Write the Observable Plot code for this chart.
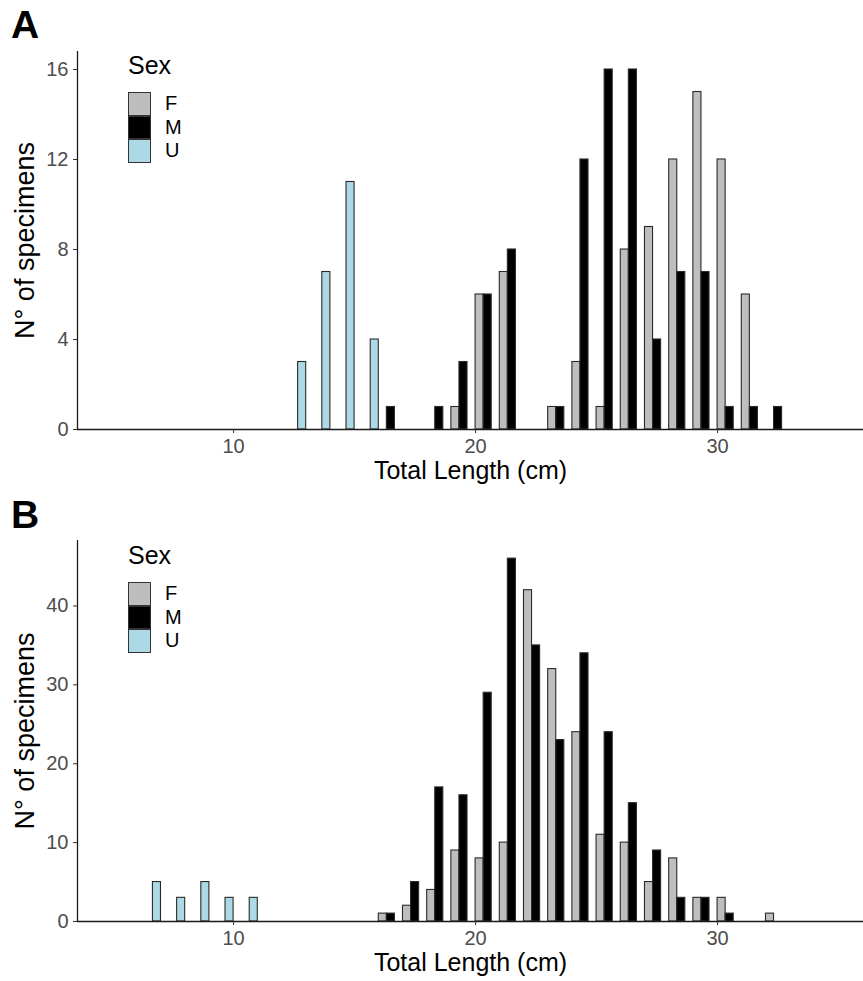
<!DOCTYPE html>
<html>
<head>
<meta charset="utf-8">
<script src="https://cdn.jsdelivr.net/npm/d3@7"></script>
<script src="https://cdn.jsdelivr.net/npm/@observablehq/plot@0.6"></script>
<style>
  body { margin: 0; background: #fff; font-family: "Liberation Sans", Arial, sans-serif; }
  .panel { position: relative; width: 863px; }
  .panel svg { display: block; }
  .tag { position: absolute; left: 11px; top: 5px; font-weight: bold; font-size: 39px; line-height: 39px; color: #000; }
  .legtitle { position: absolute; left: 128px; top: 53px; font-size: 25px; line-height: 25px; color: #000; }
  .key { position: absolute; left: 128px; width: 21px; height: 21.5px; border: 1px solid #333; }
  .keylab { position: absolute; left: 165px; font-size: 20px; line-height: 23.5px; color: #000; }
</style>
</head>
<body>
<div id="root"></div>
<script>
// ---- data ----
const sexes = ["F", "M", "U"];
const sexColors = ["#BEBEBE", "#000000", "#ADD8E6"];
const xTicks = [10, 20, 30];
const xDomain = [3.55, 36.03];
const panelTags = ["A", "B"];
const xTitle = "Total Length (cm)";
const yTitle = "N\u00B0 of specimens";
const legendTitle = "Sex";

const yTicksA = [0, 4, 8, 12, 16];
const yTicksB = [0, 10, 20, 30, 40];

// Panel A counts per 1 cm bin (bin start, cm)
const aF_bins = [19, 20, 21, 23, 24, 25, 26, 27, 28, 29, 30, 31];
const aF_counts = [1, 6, 7, 1, 3, 1, 8, 9, 12, 15, 12, 6];
const aM_bins = [16, 18, 19, 20, 21, 23, 24, 25, 26, 27, 28, 29, 30, 31, 32];
const aM_counts = [1, 1, 3, 6, 8, 1, 12, 16, 16, 4, 7, 7, 1, 1, 1];
const aU_bins = [12, 13, 14, 15];
const aU_counts = [3, 7, 11, 4];

// Panel B
const bF_bins = [16, 17, 18, 19, 20, 21, 22, 23, 24, 25, 26, 27, 28, 29, 30, 32];
const bF_counts = [1, 2, 4, 9, 8, 10, 42, 32, 24, 11, 10, 5, 8, 3, 3, 1];
const bM_bins = [16, 17, 18, 19, 20, 21, 22, 23, 24, 25, 26, 27, 28, 29, 30];
const bM_counts = [1, 5, 17, 16, 29, 46, 35, 23, 34, 24, 15, 9, 3, 3, 1];
const bU_bins = [6, 7, 8, 9, 10];
const bU_counts = [5, 3, 5, 3, 3];

function rowsFor(groups) {
  const rows = [];
  groups.forEach(([sex, bins, counts]) => {
    bins.forEach((b, i) => rows.push({sex, bin: b, count: counts[i]}));
  });
  return rows;
}

const rowsA = rowsFor([["F", aF_bins, aF_counts], ["M", aM_bins, aM_counts], ["U", aU_bins, aU_counts]]);
const rowsB = rowsFor([["F", bF_bins, bF_counts], ["M", bM_bins, bM_counts], ["U", bU_bins, bU_counts]]);

const nGroups = sexes.length;

function makePanel(tag, rows, yMax, yTicks, height, mTop, mBottom) {
  const div = document.createElement("div");
  div.className = "panel";
  div.style.height = height + "px";

  const chart = Plot.plot({
    width: 863,
    height,
    marginLeft: 77,
    marginRight: 0,
    marginTop: mTop,
    marginBottom: mBottom,
    style: {fontFamily: "Liberation Sans, Arial, sans-serif", background: "#fff", overflow: "visible"},
    x: {domain: xDomain},
    y: {domain: [0, yMax]},
    color: {domain: sexes, range: sexColors},
    marks: [
      Plot.rectY(rows, {
        x1: d => d.bin + sexes.indexOf(d.sex) / nGroups,
        x2: d => d.bin + (sexes.indexOf(d.sex) + 1) / nGroups,
        y1: 0,
        y2: "count",
        fill: "sex",
        stroke: "#2a2a2a",
        strokeWidth: 1.1,
        inset: 0
      }),
      Plot.ruleY([0], {stroke: "#1a1a1a", strokeWidth: 1.3}),
      Plot.ruleX([xDomain[0]], {stroke: "#1a1a1a", strokeWidth: 1.3}),
      Plot.axisX({ticks: xTicks, tickSize: 4, tickPadding: 5, fontSize: 20, stroke: "#333", fill: "#4D4D4D", label: null}),
      Plot.axisY({ticks: yTicks, tickSize: 4, tickPadding: 5, fontSize: 20, stroke: "#333", fill: "#4D4D4D", label: null}),
      Plot.text([xTitle], {text: d => d, frameAnchor: "bottom", textAnchor: "middle", lineAnchor: "middle", dy: 41, fontSize: 25, fill: "#000"}),
      Plot.text([yTitle], {text: d => d, frameAnchor: "left", textAnchor: "middle", lineAnchor: "middle", dx: -52, rotate: -90, fontSize: 27, fill: "#000"})
    ]
  });
  div.appendChild(chart);

  const t = document.createElement("div");
  t.className = "tag";
  t.textContent = tag;
  div.appendChild(t);

  const lt = document.createElement("div");
  lt.className = "legtitle";
  lt.textContent = legendTitle;
  div.appendChild(lt);

  sexes.forEach((s, i) => {
    const k = document.createElement("div");
    k.className = "key";
    k.style.top = (92 + i * 23.5) + "px";
    k.style.background = sexColors[i];
    div.appendChild(k);
    const l = document.createElement("div");
    l.className = "keylab";
    l.style.top = (92 + i * 23.5) + "px";
    l.textContent = s;
    div.appendChild(l);
  });
  return div;
}

const root = document.getElementById("root");
root.appendChild(makePanel(panelTags[0], rowsA, 16.8, yTicksA, 490, 51, 61));
root.appendChild(makePanel(panelTags[1], rowsB, 48.3, yTicksB, 491, 50, 60));
</script>
</body>
</html>
